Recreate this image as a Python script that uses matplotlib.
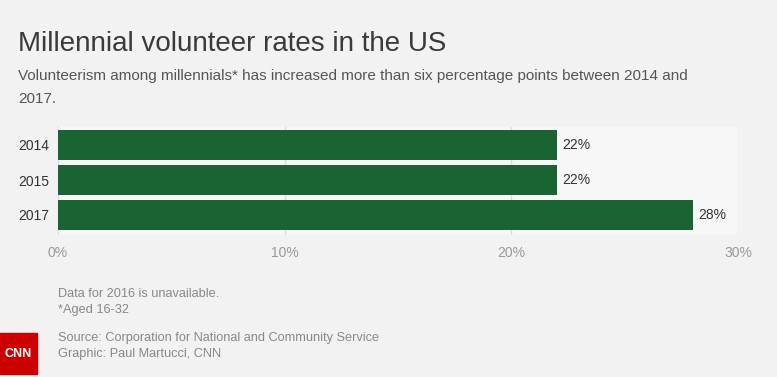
import matplotlib
matplotlib.use("Agg")
import matplotlib.pyplot as plt
from matplotlib.patches import Rectangle

years = ["2014", "2015", "2017"]
rates = [22, 22, 28]
ticks = [0, 10, 20, 30]
tick_labels = ["0%", "10%", "20%", "30%"]

bg = "#f2f2f2"
green = "#1a6433"

plt.rcParams['font.family'] = ['Liberation Sans', 'DejaVu Sans']

fig = plt.figure(figsize=(7.77, 3.77), dpi=100, facecolor=bg)
ax = fig.add_axes([58/777, 1-235/377, 680/777, 108/377])
ax.set_facecolor("#f7f7f7")

pos = list(range(len(years)))
ax.barh(pos, rates, height=30/35, color=green, zorder=3)
for p, r in zip(pos, rates):
    ax.text(r + 0.25, p, "%d%%" % r, va="center", ha="left", fontsize=10, color="#333333")

ax.set_xlim(0, 30)
ax.set_ylim(2 + 20/35, -18/35)
ax.set_xticks(ticks)
ax.set_xticklabels(tick_labels, color="#999999", fontsize=10)
ax.set_yticks(pos)
ax.set_yticklabels(years, color="#333333", fontsize=10)
ax.tick_params(length=0, pad=8)
ax.tick_params(axis="y", pad=6)
ax.grid(axis="x", color="#dddddd", lw=1, zorder=0)
for s in ax.spines.values():
    s.set_visible(False)

fig.text(18/777, 1-44/377, "Millennial volunteer rates in the US", fontsize=20, color="#3a3a3a", va="center")
fig.text(18/777, 1-76/377, "Volunteerism among millennials* has increased more than six percentage points between 2014 and",
         fontsize=11, color="#555555", va="center")
fig.text(18/777, 1-99/377, "2017.", fontsize=11, color="#555555", va="center")

fs = 9.2
fig.text(58/777, 1-294/377, "Data for 2016 is unavailable.", fontsize=fs, color="#888888", va="center")
fig.text(58/777, 1-310/377, "*Aged 16-32", fontsize=fs, color="#888888", va="center")
fig.text(58/777, 1-338/377, "Source: Corporation for National and Community Service", fontsize=fs, color="#888888", va="center")
fig.text(58/777, 1-354/377, "Graphic: Paul Martucci, CNN", fontsize=fs, color="#888888", va="center")

fig.patches.append(Rectangle((0, 3/377), 37/777, 41/377, transform=fig.transFigure, color="#cc0000"))
fig.text(18/777, 1-354/377, "CNN", fontsize=9, color="white", weight="bold", ha="center", va="center")

fig.savefig("out.png", dpi=100, facecolor=bg)
